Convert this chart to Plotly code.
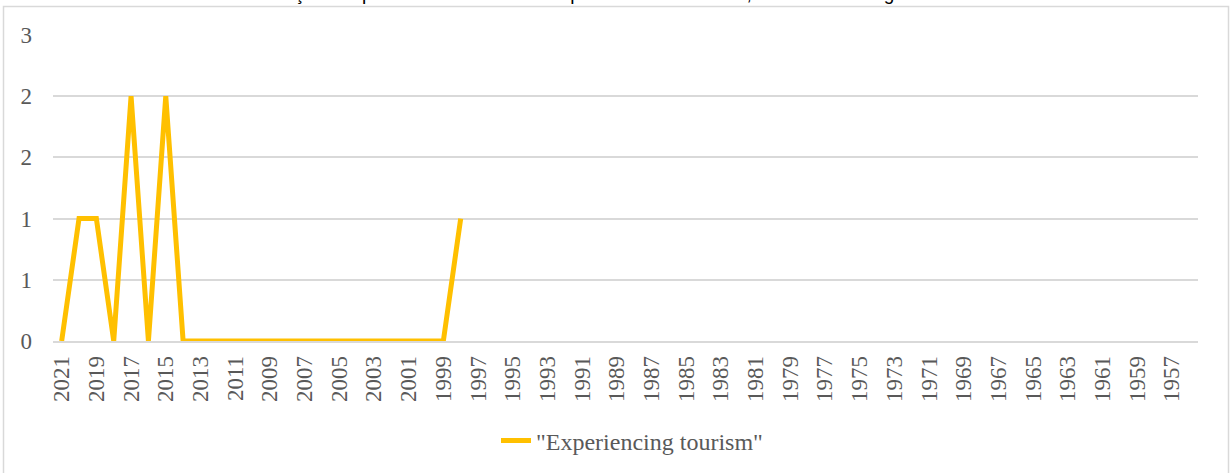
import plotly.graph_objects as go

years = [str(y) for y in range(2021, 1955, -1)]
values = [0, 1, 1, 0, 2, 0, 2, 0] + [0] * 15 + [1] + [None] * 42
series_name = '"Experiencing tourism"'
y_tickvals = [0, 0.5, 1, 1.5, 2, 2.5]
y_ticktext = ["0", "1", "1", "2", "2", "3"]
x_ticklabels = years[::2]
title_text = "Evolução temporal dos estudos sobre percurso dos turistas, em datas de registo"

W, H = 1231, 473
L, R, T, B = 53, 1198, 35, 341
pw, ph = R - L, B - T
SERIF = "Liberation Serif"

def px(x):
    return (x - L) / pw

def py(y):
    return (B - y) / ph

fig = go.Figure()
fig.add_trace(go.Scatter(
    x=years, y=values, mode="lines", name=series_name,
    line=dict(color="#FFC000", width=5), connectgaps=False,
))

fig.update_layout(
    width=W, height=H,
    margin=dict(l=L, r=W - R, t=T, b=H - B, autoexpand=False),
    paper_bgcolor="white", plot_bgcolor="white",
    font=dict(family=SERIF, color="#595959", size=22),
    showlegend=True,
    legend=dict(orientation="h", x=px(496), xanchor="left", y=py(441), yanchor="middle",
                font=dict(family=SERIF, size=24, color="#595959"), bgcolor="rgba(0,0,0,0)"),
    xaxis=dict(type="category", categoryorder="array", categoryarray=years,
               range=[-0.5, len(years) - 0.5],
               tickmode="array", tickvals=x_ticklabels, ticktext=x_ticklabels,
               tickangle=-90, showgrid=False, showline=True, linecolor="#d9d9d9", linewidth=1.5,
               ticks="", ticklabelstandoff=4,
               tickfont=dict(family=SERIF, size=23, color="#595959"), zeroline=False),
    yaxis=dict(range=[0, 2.5], tickmode="array", tickvals=y_tickvals, ticktext=y_ticktext,
               showgrid=True, gridcolor="#d9d9d9", gridwidth=1.5, zeroline=False,
               showline=False, ticks="", ticklabelstandoff=20,
               tickfont=dict(family=SERIF, size=23, color="#595959")),
    shapes=[dict(type="rect", xref="paper", yref="paper",
                 x0=px(3.5), x1=px(1228.5), y0=py(490), y1=py(6.5),
                 line=dict(color="#d9d9d9", width=1.5), fillcolor="rgba(0,0,0,0)", layer="below")],
    annotations=[dict(text=title_text, xref="paper", yref="paper", x=px(245), xanchor="left",
                      y=py(6), yanchor="bottom", showarrow=False,
                      font=dict(family="Liberation Sans, Arial, sans-serif", size=19, color="#000000"))],
)

fig.write_html("out.html", config={"displayModeBar": False},
               post_script="document.body.style.margin='0';document.body.style.overflow='hidden';")
